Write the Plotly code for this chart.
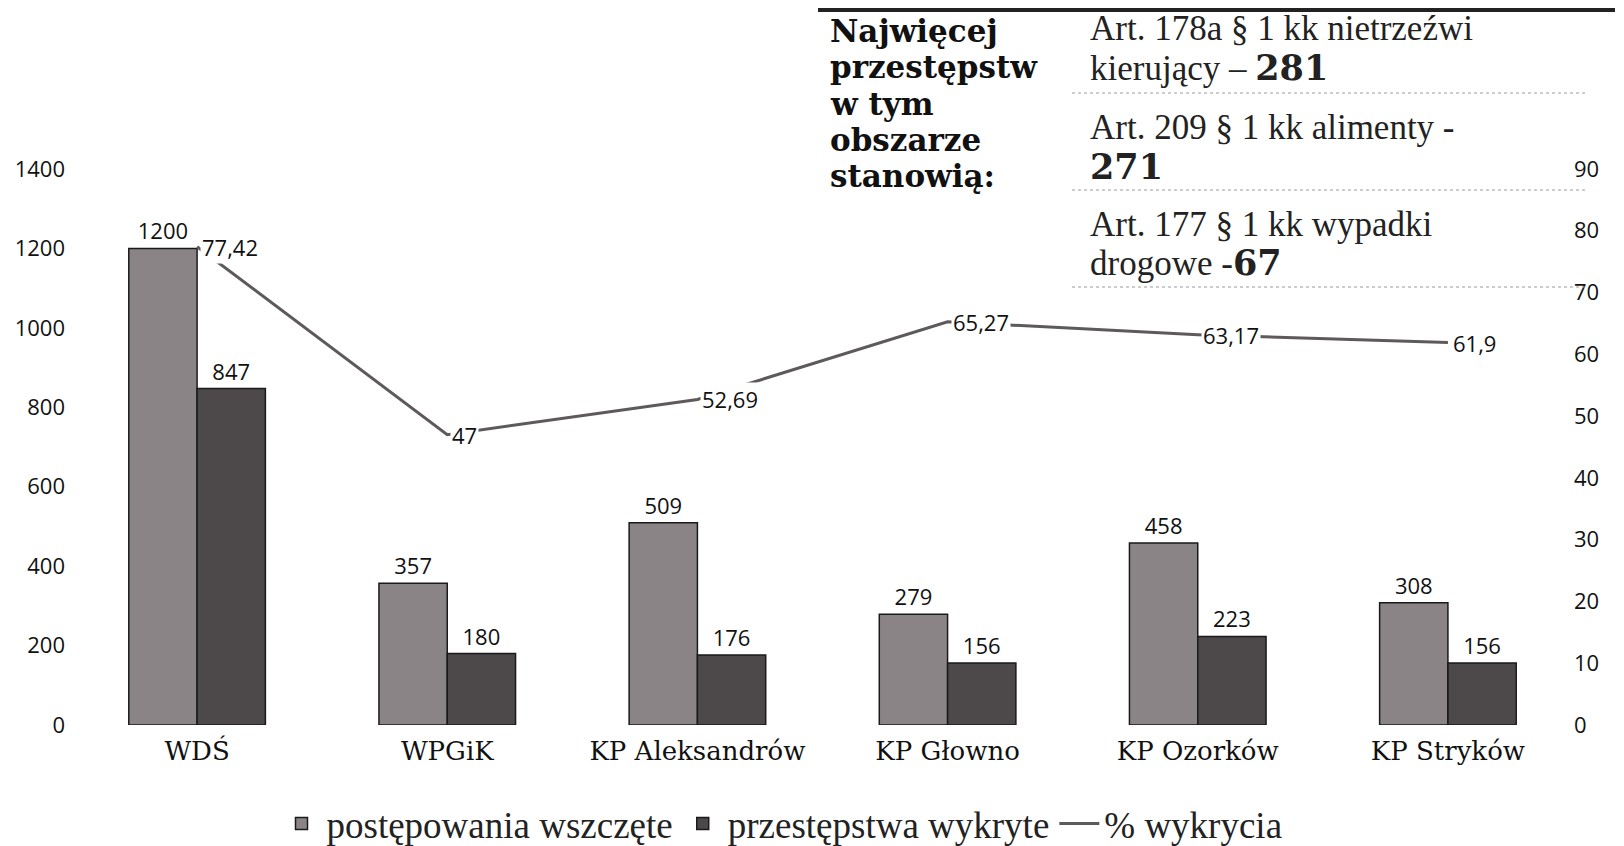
import plotly.graph_objects as go

# data
units = ["WDŚ", "WPGiK", "KP Aleksandrów", "KP Głowno", "KP Ozorków", "KP Stryków"]
started = [1200, 357, 509, 279, 458, 308]
detected = [847, 180, 176, 156, 223, 156]
detect_pct = [77.42, 47, 52.69, 65.27, 63.17, 61.9]
pct_labels = ["77,42", "47", "52,69", "65,27", "63,17", "61,9"]

top_header = ["Najwięcej", "przestępstw", "w tym", "obszarze", "stanowią:"]
slab = "<span style='font-family:DejaVu Serif'><b>%s</b></span>"
top_items = [
    "Art. 178a § 1 kk nietrzeźwi",
    "kierujący – " + slab % "281",
    "Art. 209 § 1 kk alimenty -",
    slab % "271",
    "Art. 177 § 1 kk wypadki",
    "drogowe -" + slab % "67",
]

# the page body adds an 8px margin, so the figure is 8px smaller
OFF = 8
W, H = 1624 - OFF, 846 - OFF
ML, MR, MT, MB = 72 - OFF, 51, 169 - OFF, 121
PW, PH = W - ML - MR, H - MT - MB


def px(x):
    return (x - OFF - ML) / PW


def py(y):
    return (H - MB - (y - OFF)) / PH


tick_font = dict(family="Open Sans", size=22, color="#111")
serif = "DejaVu Serif"

fig = go.Figure()

fig.add_trace(go.Bar(
    x=units, y=started, name="postępowania wszczęte",
    marker=dict(color="#8b8486", line=dict(color="#1a1a1a", width=1.5)),
    text=started, textposition="outside", textfont=tick_font, cliponaxis=False,
))
fig.add_trace(go.Bar(
    x=units, y=detected, name="przestępstwa wykryte",
    marker=dict(color="#4d494b", line=dict(color="#1a1a1a", width=1.5)),
    text=detected, textposition="outside", textfont=tick_font, cliponaxis=False,
))
fig.add_trace(go.Scatter(
    x=units, y=detect_pct, name="% wykrycia", yaxis="y2",
    mode="lines", line=dict(color="#5e595b", width=3),
))

# labels of the line sit on white boxes right of the points
for u, v, t in zip(units, detect_pct, pct_labels):
    fig.add_annotation(
        x=u, y=v, yref="y2", text=t, showarrow=False,
        xanchor="left", yanchor="middle", xshift=3,
        bgcolor="white", font=tick_font,
    )

# text block in the upper right
header_y = [31, 67, 104, 140, 176]
for t, y in zip(top_header, header_y):
    fig.add_annotation(
        xref="paper", yref="paper", x=px(828), y=py(y), text="<b>" + t + "</b>",
        showarrow=False, xanchor="left", yanchor="middle",
        font=dict(family=serif, size=31, color="#111"),
    )

item_y = [28, 67, 127, 166, 224, 263]
for t, y in zip(top_items, item_y):
    fig.add_annotation(
        xref="paper", yref="paper", x=px(1088), y=py(y), text=t,
        showarrow=False, xanchor="left", yanchor="middle",
        font=dict(family="Liberation Serif", size=35, color="#222"),
    )

for y in [93, 190, 287]:
    fig.add_shape(
        type="line", xref="paper", yref="paper",
        x0=px(1072), x1=px(1585), y0=py(y), y1=py(y),
        line=dict(color="#9a9a9a", width=1, dash="dot"),
    )
fig.add_shape(
    type="line", xref="paper", yref="paper",
    x0=px(818), x1=px(1615), y0=py(10), y1=py(10),
    line=dict(color="#222", width=4),
)

fig.update_layout(
    width=W, height=H,
    margin=dict(l=ML, r=MR, t=MT, b=MB, autoexpand=False),
    paper_bgcolor="white", plot_bgcolor="white",
    barmode="group", bargap=0.454, bargroupgap=0,
    showlegend=True,
    legend=dict(
        orientation="h", x=px(782), xanchor="center", y=py(824), yanchor="middle",
        font=dict(family="Liberation Serif", size=37, color="#222"),
        itemwidth=40, tracegroupgap=0,
    ),
    xaxis=dict(
        showgrid=False, showline=False, ticks="", ticklabelstandoff=8,
        tickfont=dict(family=serif, size=26, color="#111"),
    ),
    yaxis=dict(
        range=[0, 1400], dtick=200, showgrid=False, zeroline=False,
        showline=False, ticks="", tickfont=tick_font, ticklabelstandoff=6,
    ),
    yaxis2=dict(
        range=[0, 90], dtick=10, overlaying="y", side="right",
        showgrid=False, zeroline=False, showline=False, ticks="",
        tickfont=tick_font,
    ),
)

fig.write_html("out.html")
